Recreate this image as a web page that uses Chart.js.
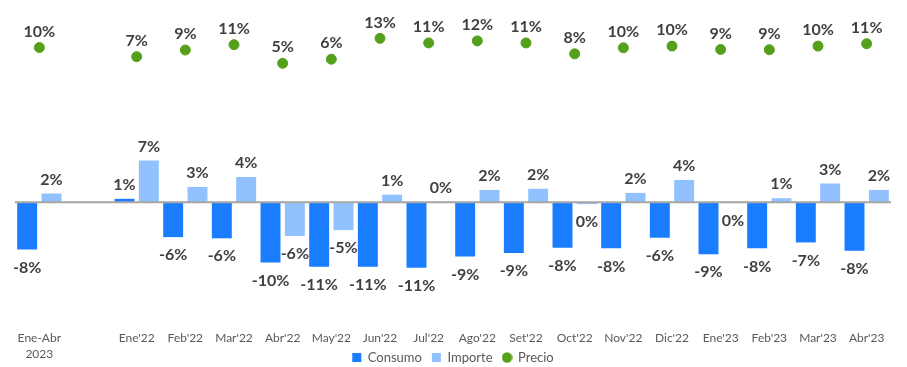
<!DOCTYPE html>
<html>
<head>
<meta charset="utf-8">
<script src="https://cdn.jsdelivr.net/npm/chart.js@4"></script>
<style>
  html, body { margin: 0; padding: 0; background: #fff; }
  #wrap { width: 907px; height: 367px; position: relative; }
</style>
</head>
<body>
<div id="wrap"><canvas id="chart"></canvas></div>
<script>
const categories = [['Ene-Abr', '2023'], '', "Ene'22", "Feb'22", "Mar'22", "Abr'22", "May'22", "Jun'22", "Jul'22",
  "Ago'22", "Set'22", "Oct'22", "Nov'22", "Dic'22", "Ene'23", "Feb'23", "Mar'23", "Abr'23"]
const consumo = [-8.0, null, 0.6, -5.9, -6.1, -10.2, -10.9, -10.9, -11.1, -9.2, -8.6, -7.7, -7.8, -6.0, -8.8, -7.8, -6.8, -8.2]
const importe = [1.5, null, 7.1, 2.6, 4.3, -5.7, -4.7, 1.3, 0.1, 2.1, 2.3, -0.3, 1.6, 3.8, -0.1, 0.7, 3.2, 2.1]
const precio = [10.0, null, 7.1, 9.2, 10.9, 5.0, 6.3, 12.9, 11.45, 12.1, 11.45, 8.0, 9.9, 10.45, 9.4, 9.3, 10.45, 11.2]

const pct = v => Math.abs(Math.round(v)) === 0 ? '0%' : Math.round(v) + '%'

// small dot for the Precio legend entry
const dot = document.createElement('canvas')
dot.width = 11
dot.height = 11
const dctx = dot.getContext('2d')
dctx.fillStyle = '#55a01b'
dctx.beginPath()
dctx.arc(5.5, 5.5, 5.2, 0, Math.PI * 2)
dctx.fill()

// let the 2-line tick label hang into the legend band, and nudge the legend down
const layoutPlugin = {
  id: 'layoutFix',
  afterLayout(chart) {
    const x = chart.scales.x
    x.bottom = x.top + 45
    chart.legend.top += 7
    chart.legend.bottom += 7
  }
}

// zero line + value labels (no datalabels plugin available)
const labelsPlugin = {
  id: 'labels',
  afterDatasetsDraw(chart) {
    const ctx = chart.ctx
    const area = chart.chartArea
    const y0 = chart.scales.y.getPixelForValue(0)
    ctx.save()
    ctx.strokeStyle = '#a6a6a6'
    ctx.lineWidth = 2
    ctx.beginPath()
    ctx.moveTo(area.left, y0)
    ctx.lineTo(area.right, y0)
    ctx.stroke()

    ctx.font = 'bold 16px Lato'
    ctx.fillStyle = '#404040'
    ctx.textAlign = 'center'
    ctx.textBaseline = 'middle'
    chart.data.datasets.forEach((ds, di) => {
      const meta = chart.getDatasetMeta(di)
      meta.data.forEach((el, i) => {
        const v = ds.data[i]
        if (v === null || v === undefined) return
        let y
        if (ds.type === 'line') y = el.y - 16
        else y = v >= 0 ? el.y - 14 : el.y + 18
        ctx.fillText(pct(v), el.x, y)
      })
    })
    ctx.restore()
  }
}

const data = {
  labels: categories,
  datasets: [
    {
      label: 'Consumo',
      data: consumo,
      backgroundColor: '#1a7dff',
      pointStyle: 'rect',
      yAxisID: 'y'
    },
    {
      label: 'Importe',
      data: importe,
      backgroundColor: '#91c2ff',
      pointStyle: 'rect',
      yAxisID: 'y'
    },
    {
      label: 'Precio',
      type: 'line',
      data: precio,
      showLine: false,
      pointStyle: 'circle',
      pointRadius: 5,
      pointBackgroundColor: '#55a01b',
      pointBorderColor: '#55a01b',
      backgroundColor: '#55a01b',
      borderColor: '#55a01b',
      yAxisID: 'y2'
    }
  ]
}

const config = {
  type: 'bar',
  data: data,
  options: {
    responsive: true,
    maintainAspectRatio: false,
    animation: false,
    layout: { padding: { left: 15, right: 16, top: 10, bottom: 0 } },
    datasets: {
      bar: { categoryPercentage: 1.0, barPercentage: 0.82 }
    },
    scales: {
      x: {
        grid: { display: false, drawTicks: false },
        border: { display: false },
        ticks: {
          color: '#595959',
          font: { family: 'Lato', size: 12, lineHeight: 1.35 },
          maxRotation: 0,
          autoSkip: false,
          padding: 4
        },
        afterFit: scale => { scale.height = 8 }
      },
      y: { display: false, min: -20.96, max: 32.6 },
      y2: { display: false, min: -78.1, max: 21.87 }
    },
    plugins: {
      legend: {
        position: 'bottom',
        labels: {
          usePointStyle: true,
          boxWidth: 9,
          boxHeight: 9,
          padding: 10,
          color: '#595959',
          font: { family: 'Lato', size: 13 },
          generateLabels: chart => {
            const items = Chart.defaults.plugins.legend.labels.generateLabels(chart)
            items.forEach(it => { if (it.text === 'Precio') it.pointStyle = dot })
            return items
          }
        }
      },
      tooltip: { enabled: false }
    }
  },
  plugins: [layoutPlugin, labelsPlugin]
}

var myChart = new Chart(document.getElementById('chart'), config)
</script>
</body>
</html>
